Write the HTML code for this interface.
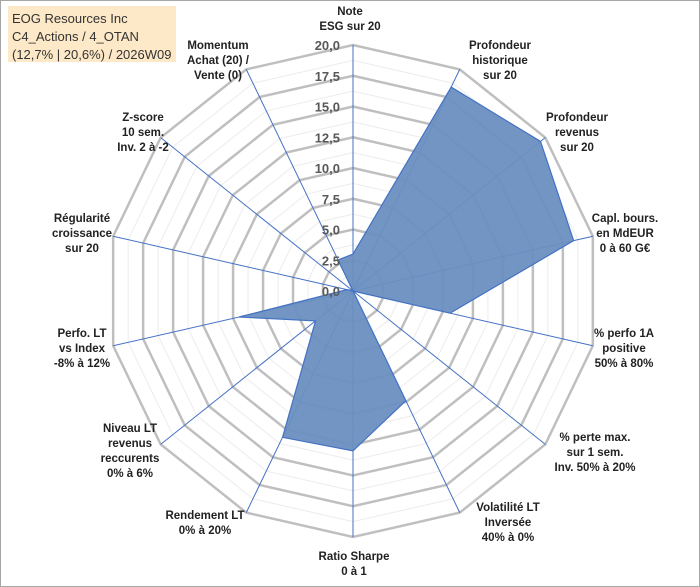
<!DOCTYPE html>
<html><head><meta charset="utf-8"><style>
body{margin:0;background:#fff}
#wrap{position:relative;width:700px;height:587px;overflow:hidden}
svg text{font-family:"Liberation Sans",Arial,sans-serif}
</style></head><body>
<div id="wrap">
<svg id="chart" width="700" height="587">
<rect x="0.5" y="0.5" width="699" height="586" fill="#fff" stroke="#a6a6a6"/>
<rect x="8" y="6" width="168" height="56" fill="#fde9c7"/>
<text x="12" y="23" font-size="13" fill="#333" font-family="Liberation Sans">EOG Resources Inc</text>
<text x="12" y="41" font-size="13" fill="#333">C4_Actions / 4_OTAN</text>
<text x="12" y="59" font-size="13" fill="#333">(12,7% | 20,6%) / 2026W09</text>
<g id="grid"></g><g id="series"></g><g id="labels"></g>
</svg>
</div>
<script>
const categories=["Note|ESG sur 20","Profondeur|historique|sur 20","Profondeur|revenus|sur 20","Capl. bours.|en MdEUR|0 à 60 G€","% perfo 1A|positive|50% à 80%","% perte max.|sur 1 sem.|Inv. 50% à 20%","Volatilité LT|Inversée|40% à 0%","Ratio Sharpe|0 à 1","Rendement LT|0% à 20%","Niveau LT|revenus|reccurents|0% à 6%","Perfo. LT|vs Index|-8% à 12%","Régularité|croissance|sur 20","Z-score|10 sem.|Inv. 2 à -2","Momentum|Achat (20) /|Vente (0)"];
const values=[3.0,18.4,19.5,18.4,8.1,0,9.9,13.0,13.2,3.9,9.5,0.5,0,2.8];
const tickLabels=["0,0","2,5","5,0","7,5","10,0","12,5","15,0","17,5","20,0"];
const maxVal=20;
const NS="http://www.w3.org/2000/svg";
const cx=353,cy=291,R=246,n=categories.length;
function ang(i){return -Math.PI/2+i*2*Math.PI/n;}
function pt(i,v){const r=v/maxVal*R;return [cx+r*Math.cos(ang(i)),cy+r*Math.sin(ang(i))];}
function mk(tag,attrs,parent){const e=document.createElementNS(NS,tag);for(const k in attrs)e.setAttribute(k,attrs[k]);parent.appendChild(e);return e;}
const grid=document.getElementById('grid');
for(let k=1;k<=16;k++){
  const v=k*maxVal/16;const pts=[];for(let i=0;i<n;i++)pts.push(pt(i,v).join(','));
  const major=k%2===0;
  const el=mk('polygon',{points:pts.join(' '),fill:'none',stroke:major?'#bfbfbf':'#ececec','stroke-width':major?2.5:1},grid);
  
  
}
for(let i=0;i<n;i++){
  const p=pt(i,maxVal);
  const el=mk('line',{x1:cx,y1:cy,x2:p[0],y2:p[1],stroke:'#4472c4','stroke-width':1},grid);
  
  
}
const series=document.getElementById('series');
const sp=values.map((v,i)=>pt(i,v).join(',')).join(' ');
const poly=mk('polygon',{points:sp,fill:'#6a8fc0',stroke:'#4472c4','stroke-width':1.2,'fill-opacity':0.95},series);


const labels=document.getElementById('labels');
tickLabels.forEach((t,k)=>{
  const y=cy-k*(R/8);
  const el=mk('text',{x:340,y:y+5,'text-anchor':'end','font-size':13,'font-weight':'bold',fill:'#595959'},labels);
  el.textContent=t;
  
  
});
const lblPos=[[350,11],[500,45],[577,117],[625,218],[624,333],[595,437],[508,507],[354,556],[205,515],[130,428],[82,333],[82,218],[143,117],[218,45]];
categories.forEach((c,i)=>{
  const lines=c.split('|');const [x,y]=lblPos[i];
  const el=mk('text',{x:x,y:y+4,'text-anchor':'middle','font-size':11.5,'font-weight':'bold',fill:'#222'},labels);
  lines.forEach((l,j)=>{const ts=mk('tspan',{x:x,dy:j?15:0},el);ts.textContent=l;});
  
  
});
</script>
</body></html>
